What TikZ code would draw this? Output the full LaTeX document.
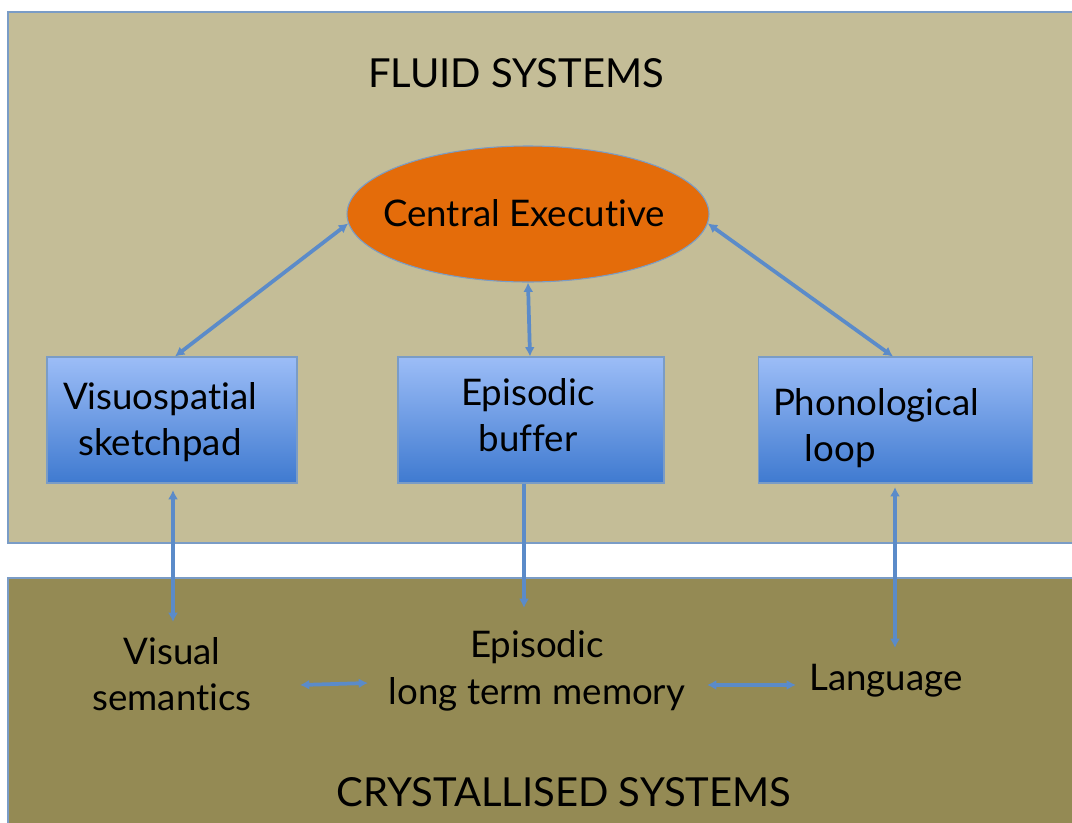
\documentclass[tikz,border=0pt]{standalone}
\usepackage{fontspec}
\setmainfont{Lato}[Ligatures={NoCommon,NoRare,NoContextual}]
\usetikzlibrary{shapes.geometric,arrows.meta}
\definecolor{tanbg}{HTML}{C4BD97}
\definecolor{olivebg}{HTML}{948A54}
\definecolor{panelborder}{HTML}{7A9CC6}
\definecolor{orangefill}{HTML}{E46C0A}
\definecolor{boxtop}{HTML}{9CBDF7}
\definecolor{boxbot}{HTML}{3F7AD0}
\definecolor{arrowblue}{HTML}{5B8BC9}
\tikzset{
  panel/.style={draw=panelborder,line width=1.6pt},
  membox/.style={draw=panelborder,line width=0.8pt,top color=boxtop,bottom color=boxbot,minimum width=187.5pt,minimum height=94.5pt,inner sep=0pt},
  lbl/.style={font=\fontsize{27.5}{35}\selectfont,align=center,inner sep=0pt},
  title/.style={font=\fontsize{30}{36}\selectfont,inner sep=0pt},
  dbl/.style={draw=arrowblue,line width=2.8pt,{Latex[length=7pt,width=7.5pt]}-{Latex[length=7pt,width=7.5pt]}},
  sgl/.style={draw=arrowblue,line width=2.8pt,-{Latex[length=7pt,width=7.5pt]}}
}
\begin{document}
\begin{tikzpicture}[x=0.75pt,y=-0.75pt]
\useasboundingbox (0,0) rectangle (1072,822);
\fill[white] (0,0) rectangle (1072,822);
% panels
\draw[panel,fill=tanbg] (8,12) rectangle (1080,543);
\draw[panel,fill=olivebg] (8,578) rectangle (1080,830);
\node[title] (fluid) at (516,73) {FLUID SYSTEMS};
\node[title] (cryst) at (564,792) {CRYSTALLISED SYSTEMS};
% central executive
\node[ellipse,draw=panelborder,line width=0.8pt,fill=orangefill,minimum width=271.5pt,minimum height=102pt,inner sep=0pt] (ce) at (528,214) {};
\node[lbl] (cetext) at (524,213) {Central Executive};
% boxes
\node[membox] (vs) at (172,420) {};
\node[lbl] (vstext) at (160,422) {Visuospatial\\sketchpad};
\node[membox,minimum width=199.5pt] (eb) at (531,420) {};
\node[lbl] (ebtext) at (528,415) {Episodic\\buffer};
\node[membox,minimum width=206pt] (pl) at (895.5,420) {};
\node[lbl,align=left] (pltext) at (876,428) {Phonological\\\hspace*{24pt}loop};
% crystallised texts
\node[lbl] (vsem) at (172,674) {Visual\\semantics};
\node[lbl] (eltm) at (537,671) {Episodic\\long term memory};
\node[lbl] (lang) at (886,681) {Language};
% arrows
\draw[dbl] (vs.north -| 175,0) -- (ce.183);
\draw[dbl] (ce.south -| 528,0) -- (eb.north -| 530,0);
\draw[dbl] (ce.-3) -- (pl.north -| 893,0);
\coordinate (vsb) at (173,490);
\coordinate (vse) at (173,622);
\draw[dbl] (vsb) -- (vse);
\draw[sgl] (eb.south -| 524,0) -- (524,608) coordinate (ebe);
\coordinate (plb) at (895,487);
\coordinate (ple) at (895,648);
\draw[dbl] (plb) -- (ple);
\coordinate (h1a) at (300,685);
\coordinate (h1b) at (368,683);
\draw[dbl] (h1a) -- (h1b);
\coordinate (h2a) at (707,685);
\coordinate (h2b) at (796,685);
\draw[dbl] (h2a) -- (h2b);
\end{tikzpicture}
\end{document}
